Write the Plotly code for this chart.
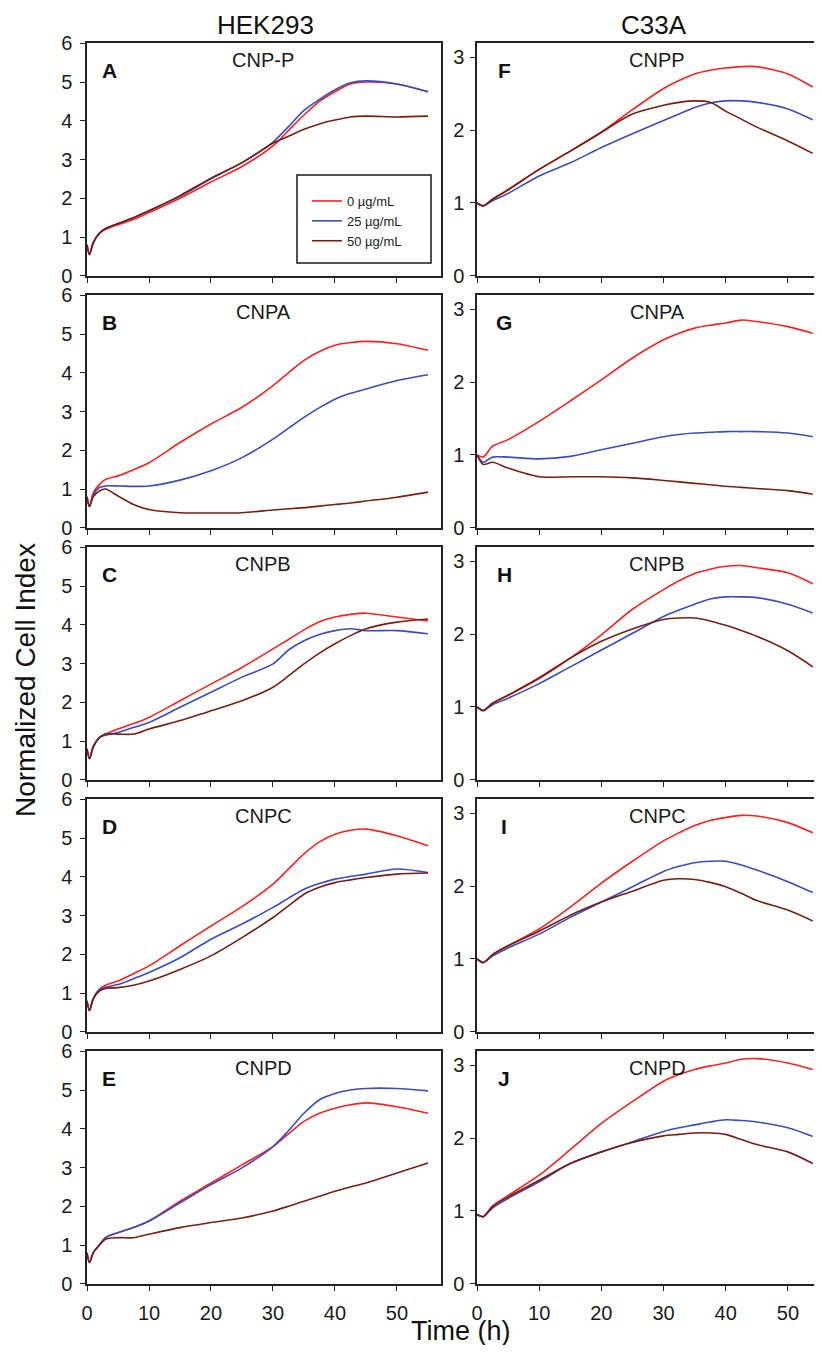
import plotly.graph_objects as go

# time grids (h)
t_hek = [0, 0.4, 1, 2, 3, 5, 7.5, 10, 15, 20, 25, 30, 32.5, 35, 37.5, 40, 42.5, 45, 50, 55]
t_c33 = [0, 1, 2.5, 5, 10, 15, 20, 25, 30, 32.5, 35, 37.5, 40, 42.5, 45, 50, 54]

doses = ["0 µg/mL", "25 µg/mL", "50 µg/mL"]
dose_colors = ["#ff1f1f", "#3a4bc4", "#7a1d12"]

# HEK293 panels (A-E)
hek_a_0 = [0.8, 0.55, 0.85, 1.1, 1.2, 1.32, 1.45, 1.63, 2.0, 2.42, 2.82, 3.35, 3.75, 4.15, 4.5, 4.75, 4.95, 5.0, 4.95, 4.75]
hek_a_25 = [0.8, 0.55, 0.85, 1.1, 1.22, 1.35, 1.5, 1.68, 2.05, 2.5, 2.92, 3.45, 3.85, 4.27, 4.55, 4.8, 4.98, 5.03, 4.95, 4.75]
hek_a_50 = [0.8, 0.55, 0.85, 1.1, 1.22, 1.35, 1.5, 1.68, 2.07, 2.52, 2.92, 3.42, 3.6, 3.78, 3.92, 4.02, 4.1, 4.12, 4.1, 4.12]

hek_b_0 = [0.8, 0.55, 0.9, 1.12, 1.25, 1.34, 1.5, 1.68, 2.2, 2.68, 3.11, 3.67, 4.0, 4.32, 4.55, 4.71, 4.78, 4.81, 4.75, 4.58]
hek_b_25 = [0.8, 0.55, 0.85, 1.04, 1.08, 1.08, 1.07, 1.08, 1.23, 1.47, 1.81, 2.29, 2.57, 2.85, 3.1, 3.32, 3.47, 3.58, 3.8, 3.95]
hek_b_50 = [0.8, 0.55, 0.8, 0.95, 1.0, 0.82, 0.6, 0.47, 0.39, 0.38, 0.39, 0.46, 0.49, 0.52, 0.56, 0.6, 0.64, 0.69, 0.79, 0.92]

hek_c_0 = [0.8, 0.55, 0.85, 1.09, 1.18, 1.31, 1.45, 1.61, 2.04, 2.47, 2.9, 3.38, 3.62, 3.87, 4.08, 4.2, 4.27, 4.3, 4.2, 4.1]
hek_c_25 = [0.8, 0.55, 0.85, 1.09, 1.15, 1.22, 1.35, 1.48, 1.87, 2.26, 2.65, 2.99, 3.35, 3.59, 3.75, 3.85, 3.9, 3.85, 3.85, 3.77]
hek_c_50 = [0.8, 0.55, 0.85, 1.09, 1.18, 1.18, 1.18, 1.31, 1.53, 1.78, 2.04, 2.39, 2.68, 2.99, 3.27, 3.51, 3.72, 3.9, 4.07, 4.15]

hek_d_0 = [0.8, 0.55, 0.85, 1.1, 1.2, 1.31, 1.5, 1.7, 2.22, 2.73, 3.23, 3.81, 4.2, 4.59, 4.9, 5.1, 5.2, 5.23, 5.06, 4.8]
hek_d_25 = [0.8, 0.55, 0.85, 1.08, 1.15, 1.22, 1.37, 1.53, 1.91, 2.39, 2.78, 3.21, 3.45, 3.68, 3.83, 3.94, 4.01, 4.07, 4.2, 4.11]
hek_d_50 = [0.8, 0.55, 0.85, 1.05, 1.12, 1.14, 1.2, 1.31, 1.61, 1.96, 2.43, 2.95, 3.25, 3.55, 3.73, 3.85, 3.92, 3.98, 4.07, 4.1]

hek_e_0 = [0.8, 0.55, 0.8, 1.0, 1.19, 1.32, 1.45, 1.62, 2.13, 2.6, 3.07, 3.54, 3.87, 4.19, 4.4, 4.53, 4.62, 4.67, 4.57, 4.4]
hek_e_25 = [0.8, 0.55, 0.8, 1.0, 1.2, 1.32, 1.45, 1.62, 2.09, 2.56, 2.99, 3.54, 3.95, 4.4, 4.75, 4.91, 5.0, 5.04, 5.04, 4.98]
hek_e_50 = [0.8, 0.55, 0.8, 1.0, 1.15, 1.19, 1.19, 1.28, 1.45, 1.58, 1.7, 1.88, 2.0, 2.13, 2.26, 2.39, 2.5, 2.6, 2.86, 3.12]

# C33A panels (F-J)
c33_f_0 = [1.0, 0.96, 1.05, 1.18, 1.46, 1.71, 1.97, 2.28, 2.57, 2.68, 2.77, 2.82, 2.85, 2.87, 2.87, 2.77, 2.59]
c33_f_25 = [1.0, 0.96, 1.03, 1.13, 1.37, 1.55, 1.76, 1.95, 2.13, 2.22, 2.31, 2.37, 2.4, 2.4, 2.38, 2.29, 2.14]
c33_f_50 = [1.0, 0.96, 1.05, 1.18, 1.46, 1.71, 1.97, 2.22, 2.34, 2.38, 2.4, 2.38, 2.26, 2.15, 2.04, 1.85, 1.68]

c33_g_0 = [1.0, 0.97, 1.12, 1.21, 1.46, 1.74, 2.03, 2.33, 2.58, 2.67, 2.74, 2.78, 2.81, 2.85, 2.83, 2.76, 2.67]
c33_g_25 = [1.0, 0.9, 0.97, 0.97, 0.945, 0.98, 1.07, 1.16, 1.25, 1.28, 1.3, 1.31, 1.32, 1.32, 1.32, 1.3, 1.25]
c33_g_50 = [1.0, 0.87, 0.9, 0.82, 0.7, 0.7, 0.7, 0.685, 0.65, 0.63, 0.61, 0.59, 0.57, 0.555, 0.54, 0.51, 0.46]

c33_h_0 = [1.0, 0.95, 1.05, 1.16, 1.39, 1.67, 1.99, 2.34, 2.61, 2.73, 2.83, 2.89, 2.93, 2.94, 2.91, 2.84, 2.69]
c33_h_25 = [1.0, 0.95, 1.03, 1.12, 1.32, 1.55, 1.78, 2.01, 2.24, 2.33, 2.41, 2.48, 2.51, 2.51, 2.5, 2.41, 2.29]
c33_h_50 = [1.0, 0.95, 1.05, 1.16, 1.4, 1.67, 1.9, 2.07, 2.2, 2.22, 2.22, 2.18, 2.12, 2.05, 1.97, 1.77, 1.55]

c33_i_0 = [1.0, 0.95, 1.06, 1.18, 1.41, 1.71, 2.04, 2.34, 2.62, 2.73, 2.83, 2.9, 2.94, 2.97, 2.96, 2.87, 2.73]
c33_i_25 = [1.0, 0.95, 1.04, 1.15, 1.34, 1.57, 1.78, 1.99, 2.2, 2.27, 2.32, 2.34, 2.34, 2.29, 2.22, 2.06, 1.91]
c33_i_50 = [1.0, 0.95, 1.06, 1.18, 1.38, 1.6, 1.78, 1.93, 2.08, 2.1, 2.09, 2.05, 1.99, 1.9, 1.8, 1.67, 1.52]

c33_j_0 = [0.95, 0.92, 1.07, 1.21, 1.49, 1.84, 2.2, 2.5, 2.78, 2.87, 2.94, 2.99, 3.03, 3.08, 3.09, 3.03, 2.94]
c33_j_25 = [0.95, 0.92, 1.04, 1.17, 1.4, 1.65, 1.81, 1.95, 2.09, 2.14, 2.18, 2.22, 2.25, 2.24, 2.22, 2.14, 2.02]
c33_j_50 = [0.95, 0.92, 1.06, 1.19, 1.42, 1.65, 1.81, 1.94, 2.03, 2.05, 2.07, 2.07, 2.05, 1.98, 1.91, 1.81, 1.65]

hek_panels = [
    ("A", "CNP-P", [hek_a_0, hek_a_25, hek_a_50]),
    ("B", "CNPA", [hek_b_0, hek_b_25, hek_b_50]),
    ("C", "CNPB", [hek_c_0, hek_c_25, hek_c_50]),
    ("D", "CNPC", [hek_d_0, hek_d_25, hek_d_50]),
    ("E", "CNPD", [hek_e_0, hek_e_25, hek_e_50]),
]
c33_panels = [
    ("F", "CNPP", [c33_f_0, c33_f_25, c33_f_50]),
    ("G", "CNPA", [c33_g_0, c33_g_25, c33_g_50]),
    ("H", "CNPB", [c33_h_0, c33_h_25, c33_h_50]),
    ("I", "CNPC", [c33_i_0, c33_i_25, c33_i_50]),
    ("J", "CNPD", [c33_j_0, c33_j_25, c33_j_50]),
]

# the page body has an 8px margin, so the figure is shrunk to fit the window
OFF = 8
W, H = 822 - 2 * OFF, 1353 - 2 * OFF
FONT = "Liberation Sans, Arial, sans-serif"


def px(x):
    return (x - OFF) / W


def py(y):
    return 1 - (y - OFF) / H


row_tops = [43.3, 295.3, 547.3, 799.3, 1051.3]
row_h = 232.5
col_x = [(87, 441), (477, 822 - OFF)]

fig = go.Figure()
layout = dict(
    template="none",
    width=W, height=H,
    margin=dict(l=0, r=0, t=0, b=0, autoexpand=False),
    paper_bgcolor="white", plot_bgcolor="white",
    font=dict(family=FONT, color="#1a1a1a"),
    showlegend=True,
    legend=dict(
        x=px(307), y=py(186), xanchor="left", yanchor="top",
        borderwidth=0, bgcolor="rgba(0,0,0,0)",
        font=dict(size=13, family=FONT, color="#1a1a1a"),
        tracegroupgap=0, itemwidth=30,
    ),
    # legend frame
    shapes=[dict(type="rect", xref="paper", yref="paper",
                 x0=px(297), x1=px(431), y0=py(263), y1=py(175),
                 line=dict(color="#1a1a1a", width=1.5), fillcolor="white", layer="below")],
)
annotations = []

axis_line = dict(showline=True, linecolor="#222", linewidth=1.5, showgrid=False,
                 zeroline=False, ticks="outside", ticklen=5, tickwidth=1.2,
                 tickcolor="#222", automargin=False,
                 tickfont=dict(size=20, family=FONT, color="#1a1a1a"))

n = 0
for col, (panels, tt, ymax, xmax) in enumerate([(hek_panels, t_hek, 6, 57.1),
                                                 (c33_panels, t_c33, 3.19, 54.2)]):
    x0, x1 = col_x[col]
    for row, (letter, name, series) in enumerate(panels):
        n += 1
        xa = "xaxis" if n == 1 else f"xaxis{n}"
        ya = "yaxis" if n == 1 else f"yaxis{n}"
        xr = "x" if n == 1 else f"x{n}"
        yr = "y" if n == 1 else f"y{n}"
        top = row_tops[row]
        layout[xa] = dict(axis_line, domain=[px(x0), px(x1)], anchor=yr,
                          range=[0, xmax], tickvals=[0, 10, 20, 30, 40, 50],
                          showticklabels=(row == 4), mirror=True,
                          ticklabelstandoff=5)
        layout[ya] = dict(axis_line, domain=[py(top + row_h), py(top)],
                          anchor=xr, range=[0, ymax], dtick=1, tick0=0,
                          mirror=(col == 0), ticklabelstandoff=4 if col == 0 else 2)
        for k in range(3):
            fig.add_trace(go.Scatter(
                x=tt, y=series[k], mode="lines", xaxis=xr, yaxis=yr,
                name=doses[k], showlegend=(n == 1),
                line=dict(color=dose_colors[k], width=1.6, shape="spline", smoothing=0.8),
            ))
        pw = x1 - x0
        lx = (22 if col == 0 else 27) / pw
        annotations.append(dict(text=f"<b>{letter}</b>", x=lx, y=1 - 27 / row_h,
                                xref=f"{xr} domain", yref=f"{yr} domain",
                                xanchor="center", yanchor="middle", showarrow=False,
                                font=dict(size=21, family=FONT, color="#111")))
        sx = 176 / pw if col == 0 else 180 / pw
        annotations.append(dict(text=name, x=sx, y=1 - 17 / row_h,
                                xref=f"{xr} domain", yref=f"{yr} domain",
                                xanchor="center", yanchor="middle", showarrow=False,
                                font=dict(size=20, family=FONT, color="#1a1a1a")))

title_font = dict(size=26, family=FONT, color="#111")
axis_title_font = dict(size=28, family=FONT, color="#111")
annotations += [
    dict(text="HEK293", x=px(265), y=py(25), font=title_font),
    dict(text="C33A", x=px(654), y=py(25), font=title_font),
    dict(text="Time (h)", x=px(461), y=py(1331), font=dict(axis_title_font, size=27)),
    dict(text="Normalized Cell Index", x=px(25), y=py(680), textangle=-90,
         font=axis_title_font),
]
for a in annotations[-4:]:
    a.update(xref="paper", yref="paper", xanchor="center", yanchor="middle",
             showarrow=False)
layout["annotations"] = annotations
fig.update_layout(layout)

fig.write_html("out.html")
